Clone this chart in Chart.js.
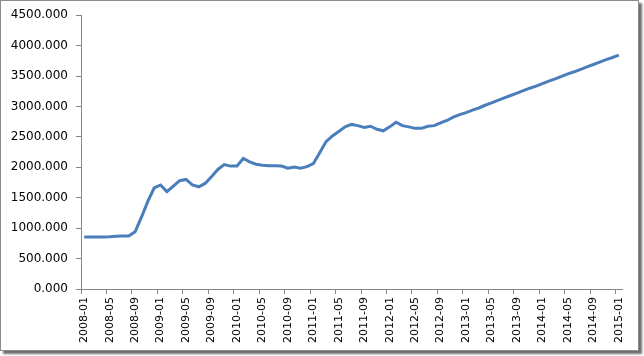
<!DOCTYPE html>
<html>
<head>
<meta charset="utf-8">
<script src="https://cdn.jsdelivr.net/npm/chart.js@4"></script>
<style>
  html, body { margin: 0; padding: 0; background: #fff; }
  #wrap { position: relative; width: 644px; height: 356px; overflow: hidden; }
  #frame { position: absolute; left: 0; top: 0; width: 637px; height: 349px; border: 1px solid #8c8c8c; box-shadow: 3px 3px 2px #6e6e6e; background: #fff; }
  #c { position: absolute; left: 0; top: 0; }
</style>
</head>
<body>
<div id="wrap">
  <div id="frame"></div>
  <canvas id="c" width="644" height="356"></canvas>
</div>
<script>
// Monthly categories 2008-01 .. 2015-01
const years = [2008, 2009, 2010, 2011, 2012, 2013, 2014, 2015];
const months = ["01","02","03","04","05","06","07","08","09","10","11","12"];
const categories = [];
for (const y of years) for (const m of months) { if (y === 2015 && m !== "01") break; categories.push(y + "-" + m); }

const values = [
  855, 855, 855, 855, 858, 865, 870, 870, 940, 1180, 1440, 1660,
  1710, 1600, 1690, 1780, 1800, 1710, 1680, 1735, 1845, 1965, 2045, 2020,
  2020, 2145, 2090, 2050, 2035, 2025, 2025, 2020, 1985, 2005, 1985, 2010,
  2060, 2240, 2420, 2515, 2590, 2665, 2705, 2685, 2655, 2675, 2625, 2600,
  2665, 2740, 2685, 2665, 2640, 2640, 2675, 2685, 2730, 2770, 2825, 2865,
  2900, 2940, 2975, 3020, 3060, 3100, 3140, 3180, 3220, 3260, 3300, 3335,
  3375, 3415, 3455, 3495, 3535, 3570, 3610, 3650, 3690, 3730, 3770, 3805,
  3843
];

const yMin = 0, yMax = 4500, yStep = 500;
const labelEvery = 4;

const axisColor = '#868686';

new Chart(document.getElementById('c'), {
  type: 'line',
  data: {
    labels: categories,
    datasets: [{
      data: values,
      borderColor: '#4a7ebb',
      borderWidth: 3,
      pointRadius: 0,
      tension: 0,
      fill: false
    }]
  },
  options: {
    responsive: false,
    animation: false,
    layout: { padding: { top: 15, right: 22, left: 0, bottom: 0 } },
    plugins: { legend: { display: false }, tooltip: { enabled: false } },
    scales: {
      x: {
        type: 'category',
        offset: true,
        grid: {
          offset: true,
          drawOnChartArea: false,
          drawTicks: true,
          tickLength: 5,
          color: (ctx) => (ctx.index !== undefined && ctx.index % labelEvery === 0) ? axisColor : 'rgba(0,0,0,0)'
        },
        border: { color: axisColor, width: 1 },
        ticks: {
          autoSkip: false,
          maxRotation: 90,
          minRotation: 90,
          padding: 3,
          color: '#000',
          font: { family: 'DejaVu Sans', size: 11 },
          callback: function(v, i) { return i % labelEvery === 0 ? categories[i] : ''; }
        },
        afterFit: (s) => { s.height = 67; }
      },
      y: {
        min: yMin, max: yMax,
        grid: { drawOnChartArea: false, drawTicks: true, tickLength: 5, color: axisColor },
        border: { color: axisColor, width: 1 },
        ticks: {
          stepSize: yStep,
          padding: 8,
          color: '#000',
          font: { family: 'DejaVu Sans', size: 12 },
          callback: (v) => Number(v).toFixed(3)
        },
        afterFit: (s) => { s.width = 81; }
      }
    }
  }
});
</script>
</body>
</html>
